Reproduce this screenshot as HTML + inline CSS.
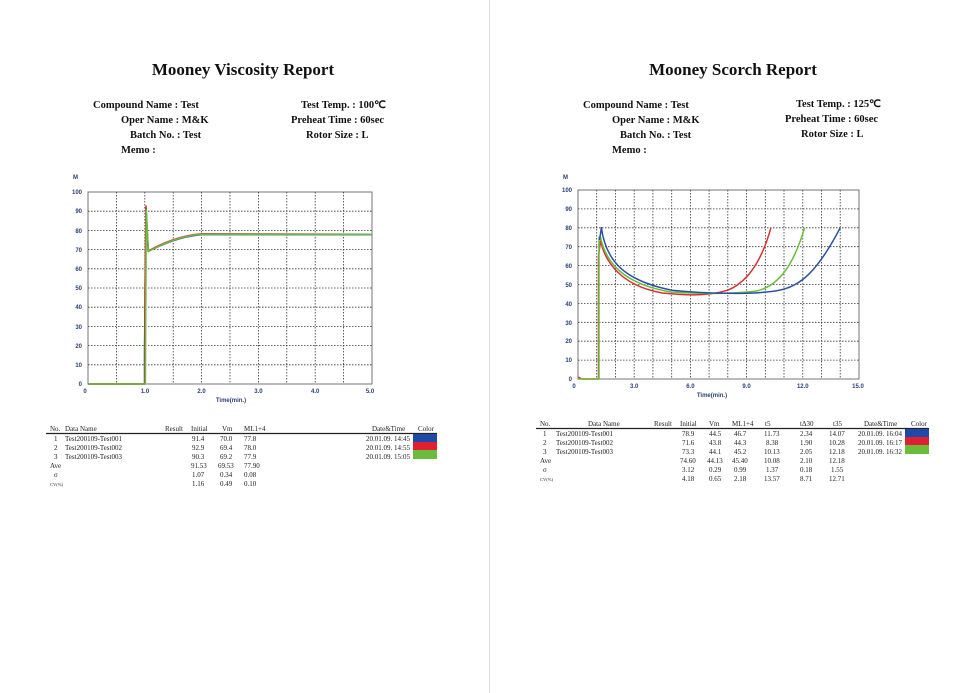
<!DOCTYPE html>
<html><head><meta charset="utf-8"><style>
html,body{margin:0;padding:0;background:#fff}
svg{display:block}
.t{font-family:"Liberation Serif",serif;font-weight:bold;fill:#111}
.h{font-family:"Liberation Serif",serif;font-weight:bold;font-size:10.5px;fill:#111}
.tk{font-family:"Liberation Sans",sans-serif;font-weight:bold;font-size:6px;fill:#2b3f78}
.tb{font-family:"Liberation Serif",serif;font-size:7px;fill:#222}
.g{stroke:#333;stroke-width:0.8;stroke-dasharray:1.5,1.5;fill:none}
.c{fill:none;stroke-width:1.5;stroke-linejoin:round}
</style></head><body>
<svg width="980" height="693" viewBox="0 0 980 693">
<rect width="980" height="693" fill="#fff"/>
<line x1="489.5" y1="0" x2="489.5" y2="693" stroke="#ddd" stroke-width="1"/>

<!-- LEFT -->
<text class="t" x="243" y="75" font-size="17" text-anchor="middle">Mooney Viscosity Report</text>
<text class="h" x="93" y="108">Compound Name : Test</text>
<text class="h" x="121" y="123">Oper Name : M&amp;K</text>
<text class="h" x="130" y="138">Batch No. : Test</text>
<text class="h" x="121" y="153">Memo :</text>
<text class="h" x="301" y="108">Test Temp. : 100℃</text>
<text class="h" x="291" y="123">Preheat Time : 60sec</text>
<text class="h" x="306" y="138">Rotor Size : L</text>

<g>
<rect x="88" y="192" width="284" height="192" fill="#fff" stroke="#666" stroke-width="0.9"/>
<path class="g" d="M116.4 192V384M144.8 192V384M173.2 192V384M201.6 192V384M230 192V384M258.4 192V384M286.8 192V384M315.2 192V384M343.6 192V384M88 211.2H372M88 230.4H372M88 249.6H372M88 268.8H372M88 288H372M88 307.2H372M88 326.4H372M88 345.6H372M88 364.8H372"/>
<text class="tk" x="73" y="179">M</text>
<g text-anchor="end">
<text class="tk" x="82" y="194">100</text><text class="tk" x="82" y="213">90</text><text class="tk" x="82" y="233">80</text><text class="tk" x="82" y="252">70</text><text class="tk" x="82" y="271">60</text><text class="tk" x="82" y="290">50</text><text class="tk" x="82" y="309">40</text><text class="tk" x="82" y="329">30</text><text class="tk" x="82" y="348">20</text><text class="tk" x="82" y="367">10</text><text class="tk" x="82" y="386">0</text>
</g>
<g text-anchor="middle">
<text class="tk" x="85" y="393">0</text><text class="tk" x="145" y="393">1.0</text><text class="tk" x="201.6" y="393">2.0</text><text class="tk" x="258.4" y="393">3.0</text><text class="tk" x="315.2" y="393">4.0</text><text class="tk" x="370" y="393">5.0</text>
<text class="tk" x="231" y="402" font-size="6.5">Time(min.)</text>
</g>
<path class="c" stroke="#2850a0" d="M88 384H144.5V350L146 207.8L148.2 251.5C161.8 244.5 178.9 236.8 201.6 234.6L372 234.6"/>
<path class="c" stroke="#d83030" d="M88 384H145V290L146 206L148.2 251C161.8 243.5 178.9 235.8 201.6 233.8L372 234.2"/>
<path class="c" stroke="#6cbc3c" d="M88 384H145.4L146.3 210L148.5 251.5C162 244 179 236.2 201.6 234.2L372 234.2"/>
</g>

<!-- left table -->
<g class="tb">
<text x="50" y="431">No.</text><text x="65" y="431">Data Name</text><text x="165" y="431">Result</text><text x="191" y="431">Initial</text><text x="222" y="431">Vm</text><text x="244" y="431">ML1+4</text><text x="372" y="431">Date&amp;Time</text><text x="418" y="431">Color</text>
</g>
<line x1="46" y1="433.5" x2="437" y2="433.5" stroke="#222" stroke-width="1.2"/>
<rect x="413" y="434" width="24" height="8" fill="#1f49a8"/>
<rect x="413" y="442" width="24" height="8" fill="#e02030"/>
<rect x="413" y="450" width="24" height="9" fill="#6cbc3c"/>
<g class="tb">
<text x="54" y="441">1</text><text x="65" y="441">Test200109-Test001</text><text x="192" y="441">91.4</text><text x="220" y="441">70.0</text><text x="244" y="441">77.8</text><text x="366" y="441">20.01.09.  14:45</text>
<text x="54" y="450">2</text><text x="65" y="450">Test200109-Test002</text><text x="192" y="450">92.9</text><text x="220" y="450">69.4</text><text x="244" y="450">78.0</text><text x="366" y="450">20.01.09.  14:55</text>
<text x="54" y="459">3</text><text x="65" y="459">Test200109-Test003</text><text x="192" y="459">90.3</text><text x="220" y="459">69.2</text><text x="244" y="459">77.9</text><text x="366" y="459">20.01.09.  15:05</text>
<text x="50" y="468">Ave</text><text x="191" y="468">91.53</text><text x="218" y="468">69.53</text><text x="244" y="468">77.90</text>
<text x="54" y="477">σ</text><text x="192" y="477">1.07</text><text x="220" y="477">0.34</text><text x="244" y="477">0.08</text>
<text x="50" y="486" font-size="4.5">CV(%)</text><text x="192" y="486">1.16</text><text x="220" y="486">0.49</text><text x="244" y="486">0.10</text>
</g>

<!-- RIGHT -->
<text class="t" x="733" y="75" font-size="17" text-anchor="middle">Mooney Scorch Report</text>
<text class="h" x="583" y="108">Compound Name : Test</text>
<text class="h" x="612" y="123">Oper Name : M&amp;K</text>
<text class="h" x="620" y="138">Batch No. : Test</text>
<text class="h" x="612" y="153">Memo :</text>
<text class="h" x="796" y="107">Test Temp. : 125℃</text>
<text class="h" x="785" y="122">Preheat Time : 60sec</text>
<text class="h" x="801" y="137">Rotor Size : L</text>

<g>
<rect x="578" y="190" width="281" height="189" fill="#fff" stroke="#666" stroke-width="0.9"/>
<path class="g" d="M596.7 190V379M615.5 190V379M634.2 190V379M652.9 190V379M671.7 190V379M690.4 190V379M709.1 190V379M727.8 190V379M746.6 190V379M765.3 190V379M784 190V379M802.8 190V379M821.5 190V379M840.2 190V379M578 208.9H859M578 227.8H859M578 246.7H859M578 265.6H859M578 284.5H859M578 303.4H859M578 322.3H859M578 341.2H859M578 360.1H859"/>
<text class="tk" x="563" y="179">M</text>
<g text-anchor="end">
<text class="tk" x="572" y="192">100</text><text class="tk" x="572" y="211">90</text><text class="tk" x="572" y="230">80</text><text class="tk" x="572" y="249">70</text><text class="tk" x="572" y="268">60</text><text class="tk" x="572" y="287">50</text><text class="tk" x="572" y="306">40</text><text class="tk" x="572" y="325">30</text><text class="tk" x="572" y="343">20</text><text class="tk" x="572" y="362">10</text><text class="tk" x="572" y="381">0</text>
</g>
<g text-anchor="middle">
<text class="tk" x="574" y="388">0</text><text class="tk" x="634.2" y="388">3.0</text><text class="tk" x="690.4" y="388">6.0</text><text class="tk" x="746.6" y="388">9.0</text><text class="tk" x="802.8" y="388">12.0</text><text class="tk" x="858" y="388">15.0</text>
<text class="tk" x="712" y="397" font-size="6.5">Time(min.)</text>
</g>
<path class="c" stroke="#d83030" d="M578 377L582 379H598.5V290M598.5 379V256L600.5 241C606.1 265.6 624.8 286.4 662.3 293C690.4 295.8 709.1 295.8 727.8 290.2C746.6 282.6 761.5 261.8 770.9 227.8"/>
<path class="c" stroke="#6cbc3c" d="M578 379H599V237.3L600.5 237.3C606.1 263.7 624.8 284.5 671.7 292.1C709.1 294 727.8 294 756 291.1C778.4 286.4 793.4 265.6 804.6 227.8"/>
<path class="c" stroke="#2850a0" d="M599.5 240L601.4 227.8C606.1 261.8 624.8 280.7 671.7 290.2C709.1 294 746.6 294 765.3 292.1C793.4 290 812.1 282 840.2 227.8"/>
</g>

<!-- right table -->
<g class="tb">
<text x="540" y="426">No.</text><text x="588" y="426">Data Name</text><text x="654" y="426">Result</text><text x="680" y="426">Initial</text><text x="709" y="426">Vm</text><text x="732" y="426">ML1+4</text><text x="765" y="426">t5</text><text x="800" y="426">tΔ30</text><text x="833" y="426">t35</text><text x="864" y="426">Date&amp;Time</text><text x="911" y="426">Color</text>
</g>
<line x1="536" y1="428.5" x2="929" y2="428.5" stroke="#222" stroke-width="1.2"/>
<rect x="905" y="429" width="24" height="8" fill="#1f49a8"/>
<rect x="905" y="437" width="24" height="8" fill="#e02030"/>
<rect x="905" y="445" width="24" height="9" fill="#6cbc3c"/>
<g class="tb">
<text x="543" y="436">1</text><text x="556" y="436">Test200109-Test001</text><text x="682" y="436">78.9</text><text x="709" y="436">44.5</text><text x="734" y="436">46.7</text><text x="764" y="436">11.73</text><text x="800" y="436">2.34</text><text x="829" y="436">14.07</text><text x="858" y="436">20.01.09.  16:04</text>
<text x="543" y="445">2</text><text x="556" y="445">Test200109-Test002</text><text x="682" y="445">71.6</text><text x="709" y="445">43.8</text><text x="734" y="445">44.3</text><text x="766" y="445">8.38</text><text x="800" y="445">1.90</text><text x="829" y="445">10.28</text><text x="858" y="445">20.01.09.  16:17</text>
<text x="543" y="454">3</text><text x="556" y="454">Test200109-Test003</text><text x="682" y="454">73.3</text><text x="709" y="454">44.1</text><text x="734" y="454">45.2</text><text x="764" y="454">10.13</text><text x="800" y="454">2.05</text><text x="829" y="454">12.18</text><text x="858" y="454">20.01.09.  16:32</text>
<text x="540" y="463">Ave</text><text x="680" y="463">74.60</text><text x="707" y="463">44.13</text><text x="732" y="463">45.40</text><text x="764" y="463">10.08</text><text x="800" y="463">2.10</text><text x="829" y="463">12.18</text>
<text x="543" y="472">σ</text><text x="682" y="472">3.12</text><text x="709" y="472">0.29</text><text x="734" y="472">0.99</text><text x="766" y="472">1.37</text><text x="800" y="472">0.18</text><text x="831" y="472">1.55</text>
<text x="540" y="481" font-size="4.5">CV(%)</text><text x="682" y="481">4.18</text><text x="709" y="481">0.65</text><text x="734" y="481">2.18</text><text x="764" y="481">13.57</text><text x="800" y="481">8.71</text><text x="829" y="481">12.71</text>
</g>
</svg>
</body></html>
